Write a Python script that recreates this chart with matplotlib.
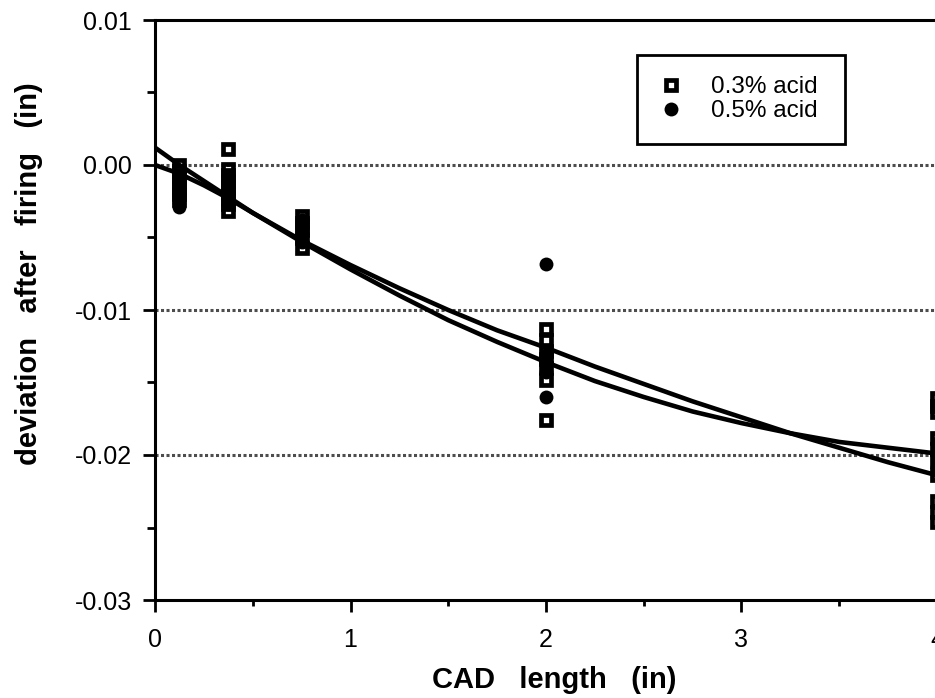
import matplotlib
matplotlib.use("Agg")
import matplotlib.pyplot as plt
from matplotlib.ticker import MultipleLocator, FixedFormatter, FixedLocator
from matplotlib.lines import Line2D

# Measured deviation after firing, 0.3% acid binder
x_acid03 = [0.125] * 7 + [0.375] * 9 + [0.75] * 5 + [2.0] * 7 + [4.0] * 10
y_acid03 = [0.0000, -0.0004, -0.0008, -0.0012, -0.0016, -0.0020, -0.0024,
            0.0011, -0.0003, -0.0007, -0.0011, -0.0015, -0.0019, -0.0023, -0.0027, -0.0032,
            -0.0035, -0.0040, -0.0045, -0.0050, -0.0057,
            -0.0113, -0.0121, -0.0128, -0.0134, -0.0140, -0.0148, -0.0176,
            -0.0161, -0.0166, -0.0170, -0.0188, -0.0196, -0.0204, -0.0214, -0.0232, -0.0239, -0.0246]

# Measured deviation after firing, 0.5% acid binder
x_acid05 = [0.125] * 6 + [0.375] * 5 + [0.75] * 4 + [2.0] * 5 + [4.0] * 3
y_acid05 = [-0.0010, -0.0014, -0.0018, -0.0022, -0.0026, -0.0029,
            -0.0009, -0.0013, -0.0017, -0.0021, -0.0027,
            -0.0038, -0.0043, -0.0048, -0.0053,
            -0.0068, -0.0131, -0.0137, -0.0143, -0.0160,
            -0.0192, -0.0200, -0.0208]

# Fitted trend curves
fit_x = [0, 0.125, 0.25, 0.375, 0.5, 0.75, 1.0, 1.25, 1.5, 1.75, 2.0, 2.25, 2.5, 2.75,
         3.0, 3.25, 3.5, 3.75, 4.0]
fit_a = [0.0012, 0.0000, -0.0011, -0.0022, -0.0033, -0.0053, -0.0072, -0.0090, -0.0107,
         -0.0122, -0.0136, -0.0149, -0.0160, -0.0170, -0.0178, -0.0185, -0.0191,
         -0.0195, -0.0199]
fit_b = [0.0000, -0.0006, -0.0014, -0.0023, -0.0033, -0.0052, -0.0069, -0.0085, -0.0100,
         -0.0114, -0.0126, -0.0139, -0.0151, -0.0163, -0.0174, -0.0185, -0.0195,
         -0.0205, -0.0214]

x_ticks = [0, 1, 2, 3, 4]
x_tick_labels = ["0", "1", "2", "3", "4"]
y_ticks = [-0.03, -0.02, -0.01, 0.00, 0.01]
y_tick_labels = ["-0.03", "-0.02", "-0.01", "0.00", "0.01"]
grid_levels = [0.00, -0.01, -0.02]

plt.rcParams["font.family"] = ["Liberation Sans", "DejaVu Sans"]

fig = plt.figure(figsize=(9.35, 6.98), dpi=100)
ax = fig.add_axes([155 / 935, 1 - 600 / 698, 782 / 935, 580 / 698])
ax.set_xlim(0, 4)
ax.set_ylim(-0.03, 0.01)

for lvl in grid_levels:
    ax.axhline(lvl, color="0.3", lw=2.2, ls=(0, (1, 0.8)), zorder=1)

sq_kw = dict(marker="s", ms=7.0, mew=3.4, mfc="none", mec="black", ls="none")
ci_kw = dict(marker="o", ms=10, mfc="black", mec="black", mew=0, ls="none")

ax.plot(x_acid03, y_acid03, clip_on=False, zorder=3, **sq_kw)
ax.plot(x_acid05, y_acid05, clip_on=False, zorder=4, **ci_kw)

ax.plot(fit_x, fit_a, color="black", lw=3.3, zorder=5, solid_joinstyle="round")
ax.plot(fit_x, fit_b, color="black", lw=3.3, zorder=5, solid_joinstyle="round")

ax.xaxis.set_major_locator(FixedLocator(x_ticks))
ax.xaxis.set_major_formatter(FixedFormatter(x_tick_labels))
ax.xaxis.set_minor_locator(MultipleLocator(0.5))
ax.yaxis.set_major_locator(FixedLocator(y_ticks))
ax.yaxis.set_major_formatter(FixedFormatter(y_tick_labels))
ax.yaxis.set_minor_locator(MultipleLocator(0.005))

ax.tick_params(which="major", direction="out", length=8.5, width=2.0,
               labelsize=18, color="black")
ax.tick_params(axis="x", which="major", pad=12)
ax.tick_params(axis="y", which="major", pad=8)
ax.tick_params(axis="x", which="minor", direction="out", length=4, width=2.0)
ax.tick_params(axis="y", which="minor", direction="out", length=5.5, width=2.0)

for s in ax.spines.values():
    s.set_linewidth(2.2)
    s.set_color("black")

ax.set_xlabel("CAD   length   (in)", fontsize=21, fontweight="bold")
ax.xaxis.set_label_coords(0.51, -0.113)
ax.set_ylabel("deviation   after   firing   (in)", fontsize=21, fontweight="bold")
ax.yaxis.set_label_coords(-0.143, 0.562)

handles = [Line2D([], [], **sq_kw), Line2D([], [], **ci_kw)]
leg_x0 = (637 - 155) / 782
leg_w = (845 - 637) / 782
leg_y0 = (600 - 140) / 580
leg_h = (140 - 55) / 580
leg = ax.legend(handles, ["0.3% acid", "0.5% acid"], fontsize=17.5,
                loc="upper left", bbox_to_anchor=(leg_x0, leg_y0, leg_w, leg_h),
                mode="expand", frameon=True, fancybox=False, shadow=False,
                edgecolor="black", framealpha=1, borderpad=0.88, handlelength=1.0,
                handletextpad=1.15, labelspacing=0.07, borderaxespad=0)
leg.get_frame().set_linewidth(2.0)

fig.savefig("out.png", dpi=100, facecolor="white")
